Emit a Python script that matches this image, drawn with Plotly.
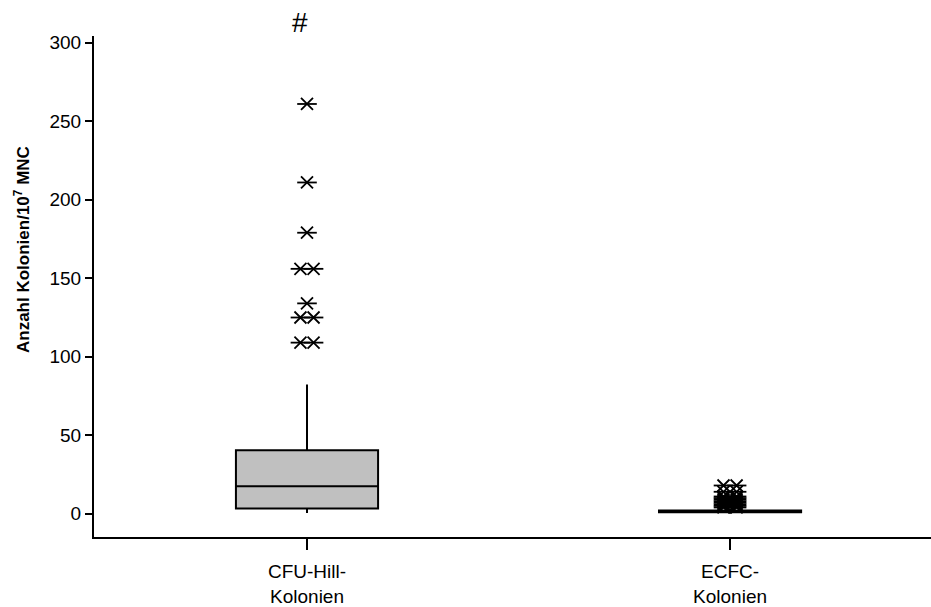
import plotly.graph_objects as go

# ---- data ----
categories = ["CFU-Hill-<br>Kolonien", "ECFC-<br>Kolonien"]
q1 = [3.3, 1.0]
median = [17.5, 1.2]
q3 = [40.4, 2.0]
lower_fence = [0.5, 0.0]
upper_fence = [82.3, 3.0]
cfu_outliers = [261, 211, 179, 156, 156, 134, 125, 125, 109, 109]
ecfc_outliers = [18, 18, 14, 14, 11, 11, 10, 10, 9, 9, 8, 8, 7, 7, 6, 6, 5, 5, 4, 4]
y_ticks = [0, 50, 100, 150, 200, 250, 300]

FONT = "Liberation Sans, Arial, sans-serif"
xs = list(range(len(categories)))

fig = go.Figure()
fig.add_trace(go.Box(
    x=xs, q1=q1, median=median, q3=q3,
    lowerfence=lower_fence, upperfence=upper_fence,
    boxpoints=False, width=0.336,
    fillcolor="#c0c0c0", line=dict(color="black", width=2),
    whiskerwidth=0, showlegend=False, hoverinfo="skip",
))

# outliers: spread duplicates side by side
def spread(values, center, d=0.0155):
    px, py = [], []
    counts = {}
    for v in values:
        counts[v] = counts.get(v, 0) + 1
    seen = {}
    for v in values:
        n = counts[v]
        k = seen.get(v, 0)
        seen[v] = k + 1
        off = 0 if n == 1 else (-d if k == 0 else d)
        px.append(center + off)
        py.append(v)
    return px, py

ox, oy = [], []
for c, vals in zip(xs, [cfu_outliers, ecfc_outliers]):
    a, b = spread(vals, c)
    ox += a
    oy += b

for sym, sz in [("x-thin-open", 12), ("line-ew-open", 14)]:
    fig.add_trace(go.Scatter(
        x=ox, y=oy, mode="markers", showlegend=False, hoverinfo="skip",
        marker=dict(symbol=sym, size=sz, color="black",
                    line=dict(color="black", width=1.8)),
    ))

fig.update_layout(
    width=931, height=607,
    margin=dict(l=94, r=0, t=36, b=70),
    plot_bgcolor="white", paper_bgcolor="white",
    font=dict(family=FONT, color="black", size=18),
    xaxis=dict(
        range=[-0.5035, 1.475], tickvals=xs, ticktext=categories,
        showline=True, linecolor="black", linewidth=2,
        ticks="outside", ticklen=11, tickwidth=2, tickcolor="black",
        showgrid=False, zeroline=False, tickfont=dict(size=19),
        ticklabelstandoff=5,
    ),
    yaxis=dict(
        range=[-14.8, 304.3], tickvals=y_ticks,
        showline=True, linecolor="black", linewidth=2,
        ticks="outside", ticklen=7, tickwidth=2, tickcolor="black",
        showgrid=False, zeroline=False, tickfont=dict(size=19),
    ),
    annotations=[
        dict(text="<b>Anzahl Kolonien/10<sup>7</sup> MNC</b>", textangle=-90,
             xref="paper", yref="y", x=0, y=168, xshift=-72,
             xanchor="center", yanchor="middle", showarrow=False,
             font=dict(size=17, family=FONT)),
        dict(text="#", xref="x", yref="paper", x=0, y=1.026, xshift=-7,
             xanchor="center", yanchor="middle", showarrow=False,
             font=dict(size=28, family=FONT)),
    ],
)

fig.write_html("out.html")
